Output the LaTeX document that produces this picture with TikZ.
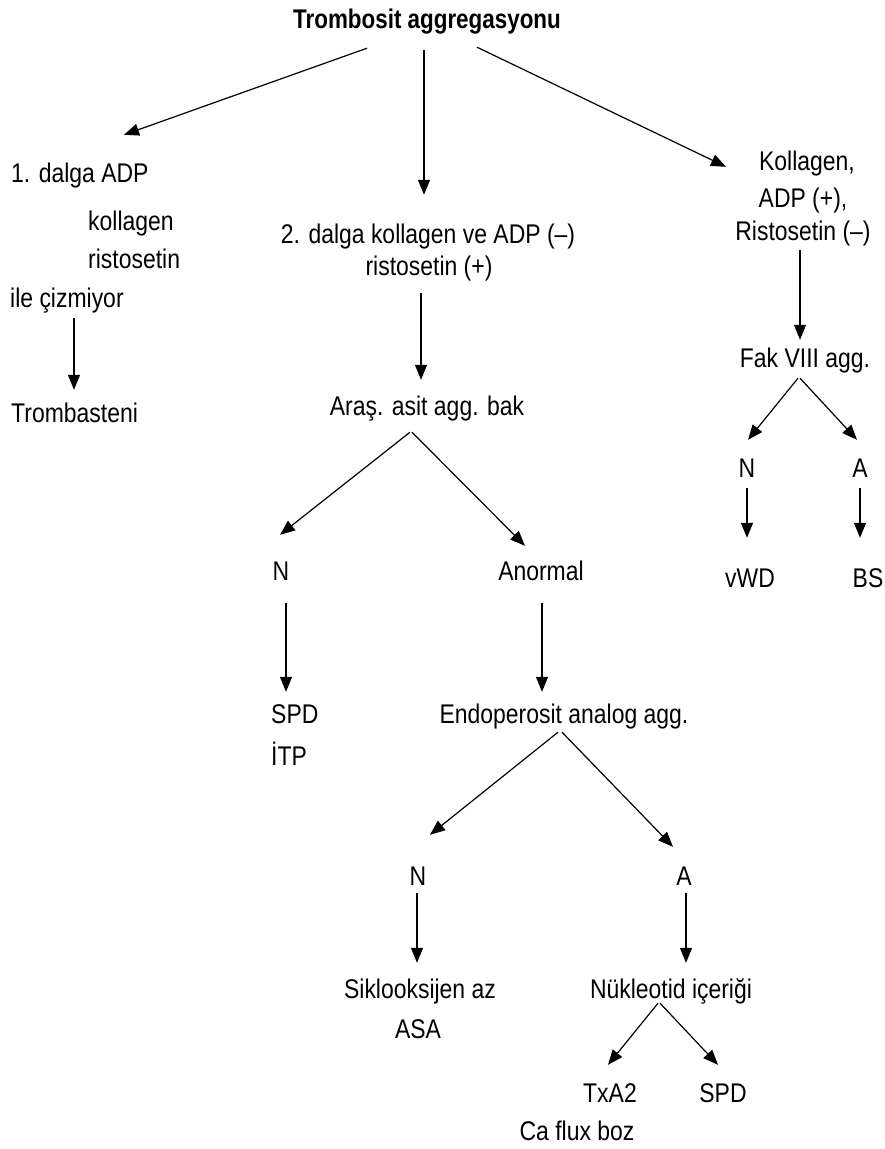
\documentclass[tikz,border=0pt]{standalone}
\usepackage{fontspec}
\setmainfont{Liberation Sans}[FakeStretch=0.85]
\newfontfamily\titlefont{Liberation Sans}[FakeStretch=0.83]
\usetikzlibrary{arrows.meta}
\begin{document}
\begin{tikzpicture}[x=1pt,y=-1pt,>={Triangle[length=15pt,width=12pt]},
  lbl/.style={inner sep=0pt,text height=18pt,text depth=0pt,anchor=base,font=\fontsize{27}{30}\selectfont},
  lbw/.style={lbl,anchor=base west}]
\useasboundingbox (0,0) rectangle (884,1149);
\node (t) [lbl,font=\fontsize{27}{30}\titlefont\bfseries] at (427,28) {Trombosit aggregasyonu};
\node (d1) [lbw] at (11,182) {1. dalga ADP};
\node (k1) [lbw] at (88,230) {kollagen};
\node (r1) [lbw] at (88,268) {ristosetin};
\node (i1) [lbw] at (10,307) {ile çizmiyor};
\node (tb) [lbw] at (11,422) {Trombasteni};
\node (d2) [lbl] at (428,243) {2. dalga kollagen ve ADP (–)};
\node (r2) [lbl] at (429,275) {ristosetin (+)};
\node (ar) [lbl] at (427,415) {Araş. asit agg. bak};
\node (n1) [lbl] at (281,580) {N};
\node (an) [lbl] at (541,580) {Anormal};
\node (s1) [lbw] at (271,723) {SPD};
\node (itp) [lbw] at (271,765) {İTP};
\node (en) [lbl] at (564,723) {Endoperosit analog agg.};
\node (n2) [lbl] at (418,885) {N};
\node (a2) [lbl] at (684,885) {A};
\node (sk) [lbl] at (420,998) {Siklooksijen az};
\node (asa) [lbl] at (418,1038) {ASA};
\node (nu) [lbl] at (671,998) {Nükleotid içeriği};
\node (tx) [lbl] at (610,1102) {TxA2};
\node (sp) [lbl] at (723,1102) {SPD};
\node (ca) [lbl] at (577,1140) {Ca flux boz};
\node (ko) [lbl] at (807,170) {Kollagen,};
\node (ad) [lbl] at (803,207) {ADP (+),};
\node (ri) [lbl] at (803,240) {Ristosetin (–)};
\node (fk) [lbl] at (805,367) {Fak VIII agg.};
\node (n3) [lbl] at (747,477) {N};
\node (a3) [lbl] at (860,477) {A};
\node (vw) [lbl] at (750,587) {vWD};
\node (bs) [lbl] at (868,587) {BS};
\path[->,line width=1.2pt]
([shift={(-60,20)}]t.south) edge ([shift={(113,-29)}]d1.north west)
([shift={(-3,22)}]t.south) edge ([shift={(-4,-30)}]d2.north)
([shift={(50,19)}]t.south) edge ([shift={(-81,15)}]ko.north)
([shift={(64,11)}]i1.south west) edge ([shift={(63,-14)}]tb.north west)
([shift={(-8,18)}]r2.south) edge ([shift={(-6,-17)}]ar.north)
([shift={(-17,17)}]ar.south) edge ([shift={(-1,-27)}]n1.north)
([shift={(-15,17)}]ar.south) edge ([shift={(-16,-16)}]an.north)
([shift={(5,23)}]n1.south) edge ([shift={(15,-13)}]s1.north west)
([shift={(1,23)}]an.south) edge ([shift={(-22,-13)}]en.north)
([shift={(-6,9)}]en.south) edge ([shift={(12,-32)}]n2.north)
([shift={(-2,9)}]en.south) edge ([shift={(-11,-20)}]a2.north)
([shift={(-1,8)}]n2.south) edge ([shift={(-3,-17)}]sk.north)
([shift={(2,8)}]a2.south) edge ([shift={(15,-17)}]nu.north)
([shift={(-13,5)}]nu.south) edge ([shift={(-2,-19)}]tx.north)
([shift={(-11,5)}]nu.south) edge ([shift={(-5,-19)}]sp.north)
([shift={(-3,10)}]ri.south) edge ([shift={(-5,-9)}]fk.north)
([shift={(-7,11)}]fk.south) edge ([shift={(1,-19)}]n3.north)
([shift={(-5,11)}]fk.south) edge ([shift={(-3,-19)}]a3.north)
([shift={(0,11)}]n3.south) edge ([shift={(-3,-31)}]vw.north)
([shift={(0,11)}]a3.south) edge ([shift={(-8,-31)}]bs.north);
\end{tikzpicture}
\end{document}
